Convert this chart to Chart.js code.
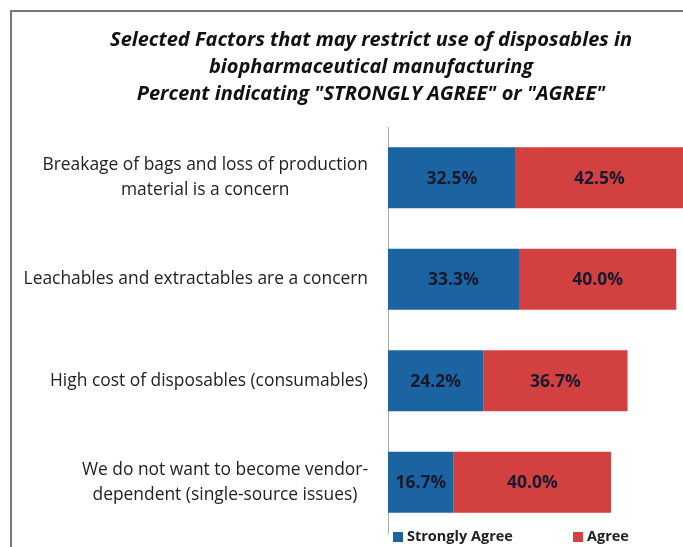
<!DOCTYPE html>
<html>
<head>
<meta charset="utf-8">
<script src="https://cdn.jsdelivr.net/npm/chart.js@4/dist/chart.umd.min.js"></script>
<style>
  html, body { margin: 0; padding: 0; background: #fff; overflow: hidden; }
  #wrap { width: 683px; height: 547px; overflow: hidden; }
</style>
</head>
<body>
<div id="wrap"><canvas id="bar-chart" width="742" height="547"></canvas></div>
<script>
var titleLines = [
  'Selected Factors that may restrict use of disposables in',
  'biopharmaceutical manufacturing',
  'Percent indicating "STRONGLY AGREE" or "AGREE"'
];
var categories = [
  ['Breakage of bags and loss of production', 'material is a concern'],
  ['Leachables and extractables are a concern'],
  ['High cost of disposables (consumables)'],
  ['We do not want to become vendor-', 'dependent (single-source issues)']
];
var seriesNames = ['Strongly Agree', 'Agree'];
var stronglyAgree = [32.5, 33.3, 24.2, 16.7];
var agree = [42.5, 40.0, 36.7, 40.0];
var colors = ['#1c63a1', '#d24140'];

// grey frame of the original picture (only top and left edges are visible)
var framePlugin = {
  id: 'frame',
  beforeDraw: function(chart) {
    var c = chart.ctx;
    c.save();
    c.strokeStyle = '#777';
    c.lineWidth = 2;
    c.beginPath();
    c.moveTo(11, chart.height);
    c.lineTo(11, 11);
    c.lineTo(chart.width, 11);
    c.stroke();
    c.restore();
  }
};

// category labels: block right aligned, lines centred within the block
var catLabels = {
  id: 'catLabels',
  afterDraw: function(chart) {
    var c = chart.ctx, y = chart.scales.y;
    c.save();
    c.font = '17.4px "Open Sans"';
    c.fillStyle = '#222';
    c.textAlign = 'center';
    c.textBaseline = 'middle';
    var right = chart.chartArea.left - 20;
    categories.forEach(function(lines, i) {
      var w = 0;
      lines.forEach(function(l) { w = Math.max(w, c.measureText(l).width); });
      var cy = y.getPixelForValue(i);
      var lh = 25;
      lines.forEach(function(l, j) {
        c.fillText(l, right - w / 2, cy + (j - (lines.length - 1) / 2) * lh);
      });
    });
    c.restore();
  }
};

// percentage labels inside each bar segment
var barValues = {
  id: 'barValues',
  afterDatasetsDraw: function(chart) {
    var c = chart.ctx;
    c.save();
    c.font = 'bold 17.5px "Open Sans"';
    c.fillStyle = '#171a2e';
    c.textAlign = 'center';
    c.textBaseline = 'middle';
    chart.data.datasets.forEach(function(ds, di) {
      chart.getDatasetMeta(di).data.forEach(function(bar, i) {
        c.fillText(ds.data[i].toFixed(1) + '%', (bar.x + bar.base) / 2, bar.y + 1);
      });
    });
    c.restore();
  }
};

// legend under the plot area
var bottomLegend = {
  id: 'bottomLegend',
  afterDraw: function(chart) {
    var c = chart.ctx, a = chart.chartArea;
    c.save();
    c.font = 'bold 14.5px "Open Sans"';
    c.textBaseline = 'middle';
    var ly = a.bottom + 4;
    var xs = [a.left + 5, a.left + 185];
    chart.data.datasets.forEach(function(ds, i) {
      c.fillStyle = ds.backgroundColor;
      c.fillRect(xs[i], ly - 5, 10, 10);
      c.fillStyle = '#222';
      c.fillText(ds.label, xs[i] + 14, ly);
    });
    c.restore();
  }
};

var ctx = document.getElementById('bar-chart');
var myChart = new Chart(ctx, {
  type: 'bar',
  data: {
    labels: categories,
    datasets: [
      { label: seriesNames[0], data: stronglyAgree, backgroundColor: colors[0] },
      { label: seriesNames[1], data: agree, backgroundColor: colors[1] }
    ]
  },
  options: {
    indexAxis: 'y',
    responsive: false,
    animation: false,
    devicePixelRatio: 1,
    layout: { padding: { top: 0, bottom: 14, left: 0, right: 0 } },
    datasets: { bar: { barPercentage: 1, categoryPercentage: 0.6 } },
    scales: {
      x: {
        stacked: true,
        min: 0,
        max: 90,
        display: false
      },
      y: {
        stacked: true,
        grid: { display: false },
        border: { display: true, color: '#aaa', width: 1 },
        ticks: { display: false },
        afterFit: function(s) { s.width = 388; }
      }
    },
    plugins: {
      legend: { display: false },
      tooltip: { enabled: false },
      title: {
        display: true,
        text: titleLines,
        color: '#111',
        font: { family: '"Open Sans"', size: 20, style: 'italic', weight: 'bold', lineHeight: 1.35 },
        padding: { top: 27, bottom: 19 }
      }
    }
  },
  plugins: [framePlugin, catLabels, barValues, bottomLegend]
});
</script>
</body>
</html>
